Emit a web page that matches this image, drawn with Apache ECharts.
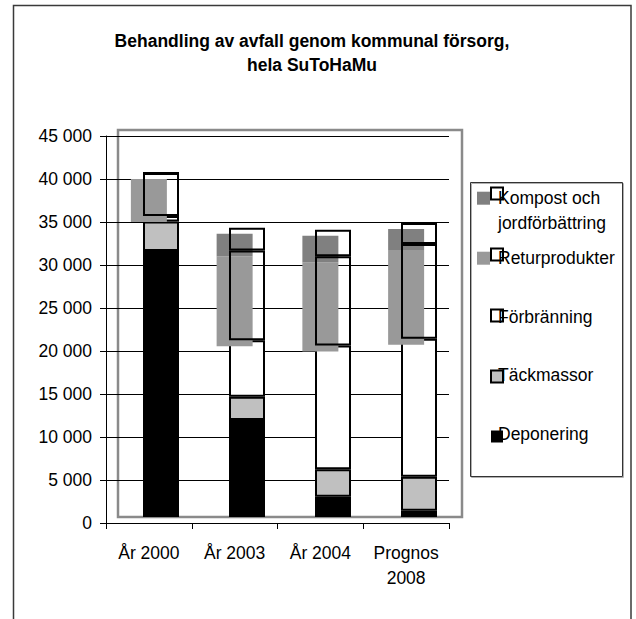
<!DOCTYPE html>
<html><head><meta charset="utf-8">
<script src="https://cdn.jsdelivr.net/npm/echarts@6/dist/echarts.min.js"></script>
<style>html,body{margin:0;padding:0;background:#fff}#c{width:636px;height:619px}</style>
</head><body><div id="c"></div>
<script>
// ---- data ----
const categories = ['År 2000', 'År 2003', 'År 2004', 'Prognos\n2008'];
const deponering = [30930, 11280, 2360, 730];
const tackmassor = [3430, 2710, 3190, 3960];
const forbranning = [640, 6550, 14380, 16050];
const returprodukter = [5000, 10460, 10400, 11010];
const kompost = [0, 2620, 3080, 2450];
const yMax = 45000;
const yStep = 5000;
const titleText = 'Behandling av avfall genom kommunal försorg,\nhela SuToHaMu';
const names = {
  dep: 'Deponering', tack: 'Täckmassor', forb: 'Förbränning',
  retur: 'Returprodukter', komp: 'Kompost och jordförbättring'
};
const kompostLegendLabel = 'Kompost och\njordförbättring';

// ---- helpers ----
const FONT = "'Liberation Sans', Arial, sans-serif";
const fmt = v => String(v).replace(/\B(?=(\d{3})+(?!\d))/g, ' ');
const baseA = deponering.map((d, i) => d + tackmassor[i] + forbranning[i]);
const outline = { color: 'rgba(0,0,0,0)', borderColor: '#000', borderWidth: 2 };

const chart = echarts.init(document.getElementById('c'), null, { renderer: 'svg' });
chart.setOption({
  animation: false,
  backgroundColor: '#fff',
  title: {
    text: titleText, left: 312, top: 29, textAlign: 'center', padding: 0,
    textStyle: { fontFamily: FONT, fontSize: 17.5, fontWeight: 'bold', lineHeight: 24, color: '#000' }
  },
  grid: [
    { left: 106, top: 136, width: 343, height: 387, outerBoundsMode: 'none' },
    { left: 118, top: 130, width: 344, height: 387, outerBoundsMode: 'none',
      show: true, borderColor: '#8a8a8a', borderWidth: 2.5, backgroundColor: 'rgba(0,0,0,0)' }
  ],
  xAxis: [
    { gridIndex: 0, type: 'category', data: categories,
      axisLine: { show: true, lineStyle: { color: '#000', width: 1 } },
      axisTick: { show: true, length: 6, interval: 0, lineStyle: { color: '#000' } },
      axisLabel: { interval: 0, color: '#000', fontFamily: FONT, fontSize: 17.5, lineHeight: 25, margin: 17 },
      splitLine: { show: false } },
    { gridIndex: 1, type: 'category', data: categories, show: false,
      axisLine: { show: false }, axisTick: { show: false }, axisLabel: { show: false }, splitLine: { show: false } }
  ],
  yAxis: [
    { gridIndex: 0, type: 'value', min: 0, max: yMax, interval: yStep,
      axisLine: { show: true, lineStyle: { color: '#000', width: 1 } },
      axisTick: { show: true, length: 6, lineStyle: { color: '#000' } },
      axisLabel: { color: '#000', fontFamily: FONT, fontSize: 17.5, margin: 14, formatter: fmt },
      splitLine: { show: true, lineStyle: { color: '#000', width: 1 } } },
    { gridIndex: 1, type: 'value', min: 0, max: yMax, interval: yStep, show: false,
      axisLine: { show: false }, axisTick: { show: false }, axisLabel: { show: false }, splitLine: { show: false } }
  ],
  legend: [
    { id: 'iconsA', data: ['Kompost (fyllning)', 'Returprodukter (fyllning)'], orient: 'vertical',
      icon: 'rect', left: 477, top: 191.7, itemWidth: 13, itemHeight: 13, itemGap: 47, padding: 0,
      formatter: () => '', textStyle: { fontSize: 6, lineHeight: 6 }, selectedMode: false },
    { id: 'iconsB', data: [names.komp, names.retur, names.forb, names.tack, names.dep], orient: 'vertical',
      icon: 'rect', left: 490, top: 186.5, itemWidth: 12, itemHeight: 12, itemGap: 47, padding: 0,
      itemStyle: { borderWidth: 2 },
      formatter: () => '', textStyle: { fontSize: 6, lineHeight: 6 }, selectedMode: false },
    { id: 'textKomp', data: [{ name: names.komp, icon: 'none' }], orient: 'vertical',
      left: 491, top: 185.5, itemWidth: 2, itemHeight: 12, padding: 0, selectedMode: false,
      formatter: () => kompostLegendLabel,
      textStyle: { fontFamily: FONT, fontSize: 17.5, lineHeight: 25, color: '#000' } },
    { id: 'textRest', data: [names.retur, names.forb, names.tack, names.dep].map(n => ({ name: n, icon: 'none' })),
      orient: 'vertical', left: 491, top: 245.5, itemWidth: 2, itemHeight: 12, itemGap: 33.5, padding: 0,
      selectedMode: false,
      textStyle: { fontFamily: FONT, fontSize: 17.5, lineHeight: 25, color: '#000' } }
  ],
  graphic: [
    { type: 'rect', shape: { x: 13.5, y: 5.5, width: 617.5, height: 700 },
      style: { fill: 'none', stroke: '#3a3a3a', lineWidth: 1.5 }, silent: true },
    { type: 'rect', shape: { x: 471.5, y: 183.5, width: 152, height: 294 },
      style: { fill: 'none', stroke: '#b0b0b0', lineWidth: 1 }, silent: true },
    { type: 'rect', shape: { x: 470.5, y: 182.5, width: 152, height: 294 },
      style: { fill: 'none', stroke: '#333', lineWidth: 1 }, silent: true }
  ],
  series: [
    // shifted layer (solid segments)
    { name: names.dep, type: 'bar', xAxisIndex: 1, yAxisIndex: 1, stack: 'B', barWidth: 36, z: 2,
      itemStyle: { color: '#000' }, data: deponering },
    { name: names.tack, type: 'bar', xAxisIndex: 1, yAxisIndex: 1, stack: 'B', barWidth: 36, z: 2,
      itemStyle: { color: '#c0c0c0', borderColor: '#000', borderWidth: 2 }, data: tackmassor },
    { name: names.forb, type: 'bar', xAxisIndex: 1, yAxisIndex: 1, stack: 'B', barWidth: 36, z: 2,
      itemStyle: { color: '#fff', borderColor: '#000', borderWidth: 2 }, data: forbranning },
    // axis-aligned layer (grey fills)
    { name: 'bas', type: 'bar', xAxisIndex: 0, yAxisIndex: 0, stack: 'A', barWidth: 36, z: 3, silent: true,
      itemStyle: { color: 'rgba(0,0,0,0)' }, data: baseA },
    { name: 'Returprodukter (fyllning)', type: 'bar', xAxisIndex: 0, yAxisIndex: 0, stack: 'A', barWidth: 36, z: 3,
      itemStyle: { color: '#999999' }, data: returprodukter },
    { name: 'Kompost (fyllning)', type: 'bar', xAxisIndex: 0, yAxisIndex: 0, stack: 'A', barWidth: 36, z: 3,
      itemStyle: { color: '#808080' }, data: kompost },
    // shifted layer outlines
    { name: names.retur, type: 'bar', xAxisIndex: 1, yAxisIndex: 1, stack: 'B', barWidth: 36, z: 4,
      itemStyle: outline, data: returprodukter },
    { name: names.komp, type: 'bar', xAxisIndex: 1, yAxisIndex: 1, stack: 'B', barWidth: 36, z: 4,
      itemStyle: outline, data: kompost }
  ]
});
</script>
</body></html>
